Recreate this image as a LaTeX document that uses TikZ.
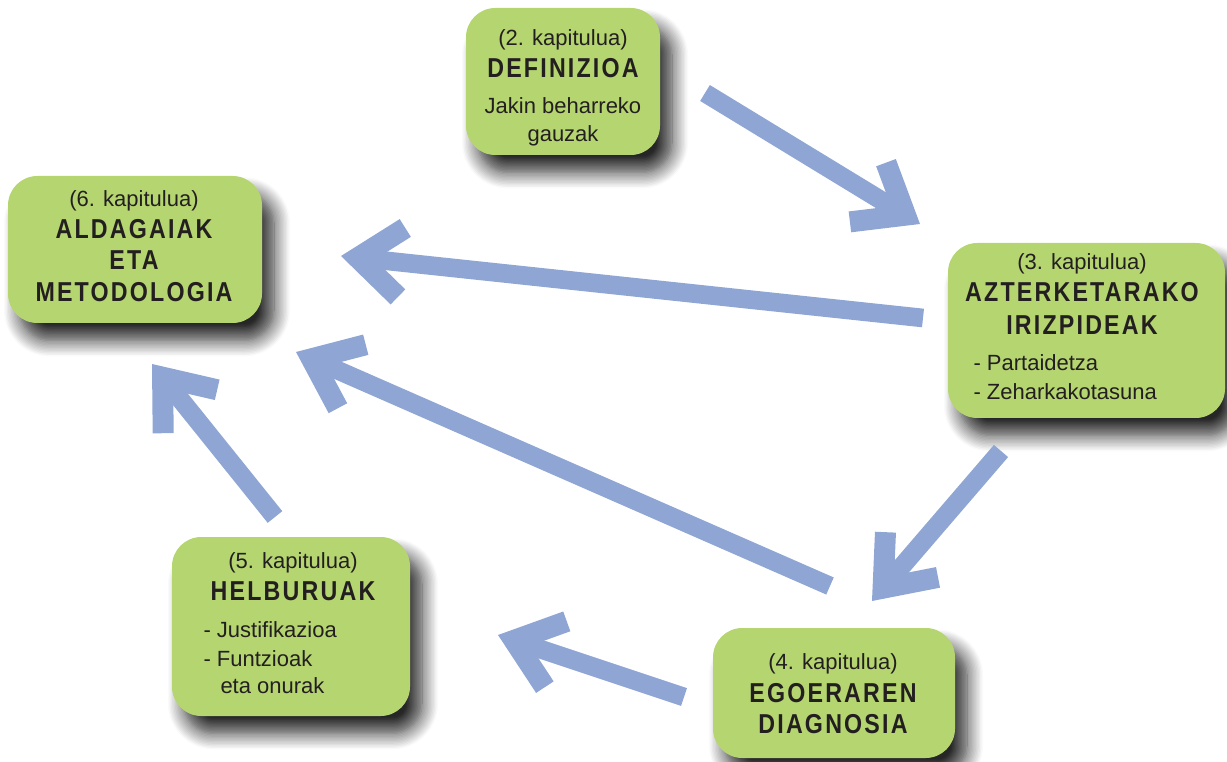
\documentclass[tikz,border=0pt]{standalone}
\usepackage{fontspec}
\setmainfont{Liberation Sans}
\newfontfamily\headfont{Liberation Sans}[FakeStretch=0.85,LetterSpace=8.0]
\usetikzlibrary{arrows.meta,shadows.blur}

\definecolor{boxgreen}{RGB}{181,213,112}
\definecolor{arrowblue}{RGB}{143,166,212}
\definecolor{inkblack}{RGB}{35,31,32}

\tikzset{every picture/.style={line width=0.75pt}}
\tikzset{
  chapbox/.style={fill=boxgreen, draw=none, rounded corners=22pt, inner sep=0pt,
    blur shadow={shadow xshift=9pt, shadow yshift=-13pt, shadow blur radius=12pt, shadow blur steps=12, shadow opacity=85}},
  chaptext/.style={anchor=base, inner sep=0.75pt, text=inkblack, font=\fontsize{16.5}{20}\selectfont},
  headtext/.style={anchor=base, inner sep=0.75pt, text=inkblack, font=\headfont\bfseries\fontsize{20.5}{24}\selectfont},
  itemtext/.style={anchor=base west, inner sep=0pt, text=inkblack, font=\fontsize{16.5}{20}\selectfont},
  flowarrow/.style={draw=arrowblue, line width=14pt,
    -{Straight Barb[length=33pt, width=52pt, line width=15.75pt]}}
}

\begin{document}
\begin{tikzpicture}[x=0.75pt,y=0.75pt,yscale=-1,xscale=1]
\useasboundingbox (0,0) rectangle (1227,762);

% Chapter boxes
\node [chapbox, minimum width=145.5pt, minimum height=110.25pt] (def) at (563,81.5) {};
\node [chapbox, minimum width=190.5pt, minimum height=110.25pt] (ald) at (135,249.5) {};
\node [chapbox, minimum width=207.75pt, minimum height=131.25pt] (azt) at (1086.5,330.5) {};
\node [chapbox, minimum width=178.5pt, minimum height=134.25pt] (hel) at (291,626.5) {};
\node [chapbox, minimum width=181.5pt, minimum height=97.5pt] (ego) at (834,693) {};

% Text Node: 2. kapitulua
\draw (563,46) node [chaptext] (defch) {(2. kapitulua)};
\draw (563,78) node [headtext] (defhd) {DEFINIZIOA};
\draw (563,114) node [chaptext] (defl1) {Jakin beharreko};
\draw (563,142) node [chaptext] (defl2) {gauzak};
% Text Node: 6. kapitulua
\draw (134,207) node [chaptext] (aldch) {(6. kapitulua)};
\draw (134,239) node [headtext] (aldh1) {ALDAGAIAK};
\draw (134,270) node [headtext] (aldh2) {ETA};
\draw (134,302) node [headtext] (aldh3) {METODOLOGIA};
% Text Node: 3. kapitulua
\draw (1082,270) node [chaptext] (aztch) {(3. kapitulua)};
\draw (1082,302) node [headtext] (azth1) {AZTERKETARAKO};
\draw (1082,335) node [headtext] (azth2) {IRIZPIDEAK};
\draw (973,371) node [itemtext] (aztl1) {- Partaidetza};
\draw (973,400) node [itemtext] (aztl2) {- Zeharkakotasuna};
% Text Node: 5. kapitulua
\draw (293,568) node [chaptext] (helch) {(5. kapitulua)};
\draw (293,600) node [headtext] (helhd) {HELBURUAK};
\draw (203,637) node [itemtext] (hell1) {- Justifikazioa};
\draw (203,666) node [itemtext] (hell2) {- Funtzioak};
\draw (220,693) node [itemtext] (hell3) {eta onurak};
% Text Node: 4. kapitulua
\draw (833,669) node [chaptext] (egoch) {(4. kapitulua)};
\draw (833,702) node [headtext] (egoh1) {EGOERAREN};
\draw (833,733) node [headtext] (egoh2) {DIAGNOSIA};

% Connection ends
\coordinate (a1s) at (705,93);   \coordinate (a1e) at (920,224);
\coordinate (a2s) at (923,318);  \coordinate (a2e) at (341,256);
\coordinate (a3s) at (830,586);  \coordinate (a3e) at (296,352);
\coordinate (a4s) at (1001,451); \coordinate (a4e) at (872,601);
\coordinate (a5s) at (684,697);  \coordinate (a5e) at (498,635);
\coordinate (a6s) at (275,517);  \coordinate (a6e) at (152,364);
% Connection
\draw [flowarrow] (a1s) -- (a1e);
\draw [flowarrow] (a2s) -- (a2e);
\draw [flowarrow] (a3s) -- (a3e);
\draw [flowarrow] (a4s) -- (a4e);
\draw [flowarrow] (a5s) -- (a5e);
\draw [flowarrow] (a6s) -- (a6e);

\end{tikzpicture}
\end{document}
